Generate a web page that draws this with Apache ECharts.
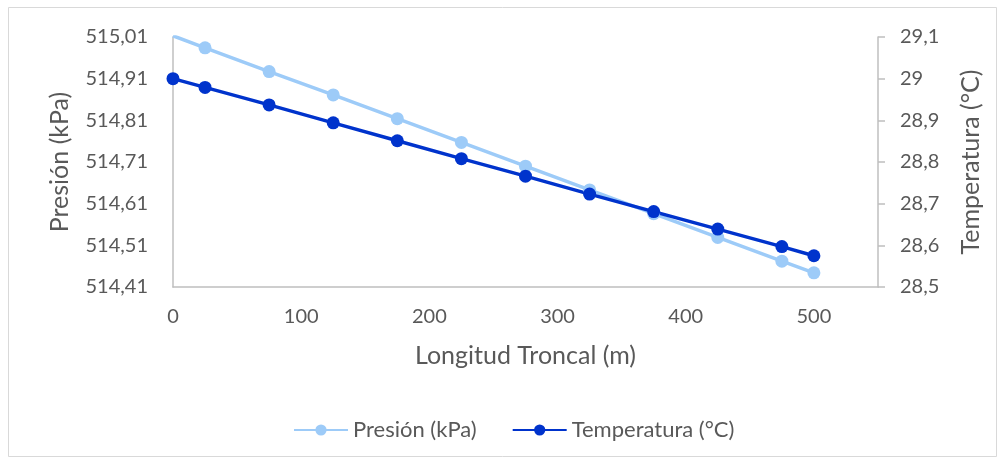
<!DOCTYPE html>
<html><head><meta charset="utf-8">
<script src="https://cdn.jsdelivr.net/npm/echarts@6/dist/echarts.min.js"></script>
<style>html,body{margin:0;padding:0;background:#fff}#c{width:1005px;height:464px}</style>
</head><body><div id="c"></div>
<script>
const distances = [0, 25, 75, 125, 175, 225, 275, 325, 375, 425, 475, 500];
const pressure = [515.013, 514.984, 514.927, 514.871, 514.814, 514.757, 514.700, 514.643, 514.586, 514.529, 514.472, 514.444];
const temperature = [29.0, 28.979, 28.937, 28.894, 28.851, 28.808, 28.766, 28.723, 28.681, 28.639, 28.597, 28.575];
const pressureTicks = [514.41, 514.51, 514.61, 514.71, 514.81, 514.91, 515.01];
const temperatureTicks = [28.5, 28.6, 28.7, 28.8, 28.9, 29.0, 29.1];
const xTicks = [0, 100, 200, 300, 400, 500];

const FONT = 'Lato';
const TXT = '#595959';
const AX = '#BFBFBF';
const C1 = '#9DCBF8';
const C2 = '#0033CC';
const pMax = pressureTicks[pressureTicks.length - 1];

const fmt = v => String(v).replace('.', ',');

const pData = distances.map((d, i) => pressure[i] > pMax
  ? { value: [d, pressure[i]], symbol: 'none' }
  : { value: [d, pressure[i]] });
const tData = distances.map((d, i) => [d, temperature[i]]);

const chart = echarts.init(document.getElementById('c'), null, { renderer: 'canvas' });
chart.setOption({
  animation: false,
  backgroundColor: '#fff',
  textStyle: { fontFamily: FONT },
  graphic: [{ type: 'rect', shape: { x: 8.5, y: 7.5, width: 988, height: 449 }, style: { fill: 'none', stroke: '#D9D9D9', lineWidth: 1 }, silent: true }],
  grid: { left: 173, right: 127, top: 37, bottom: 177, containLabel: false },
  legend: {
    left: 293, top: 419, padding: 0, itemWidth: 54, itemHeight: 14, itemGap: 35,
    textStyle: { color: TXT, fontSize: 22, fontFamily: FONT },
    data: ['Presión (kPa)', 'Temperatura (°C)']
  },
  xAxis: {
    type: 'value', min: 0, max: 550, interval: 100,
    name: 'Longitud Troncal (m)', nameLocation: 'middle', nameGap: 56,
    nameTextStyle: { color: TXT, fontSize: 25, fontFamily: FONT },
    axisLine: { show: true, lineStyle: { color: AX, width: 1.5 } },
    axisTick: { show: false },
    splitLine: { show: false },
    axisLabel: { color: TXT, fontSize: 20, fontFamily: FONT, margin: 20, customValues: xTicks }
  },
  yAxis: [{
    type: 'value', min: pressureTicks[0], max: pMax, position: 'left',
    name: 'Presión (kPa)', nameLocation: 'middle', nameGap: 101, nameRotate: 90,
    nameTextStyle: { color: TXT, fontSize: 25, fontFamily: FONT },
    axisLine: { show: true, lineStyle: { color: AX, width: 1.5 } },
    axisTick: { show: false },
    splitLine: { show: false },
    axisLabel: { color: TXT, fontSize: 20, fontFamily: FONT, margin: 25, customValues: pressureTicks, formatter: v => fmt(+v.toFixed(2)) }
  }, {
    type: 'value', min: temperatureTicks[0], max: temperatureTicks[temperatureTicks.length - 1], position: 'right',
    name: 'Temperatura (°C)', nameLocation: 'middle', nameGap: 80, nameRotate: 90,
    nameTextStyle: { color: TXT, fontSize: 25, fontFamily: FONT },
    axisLine: { show: true, lineStyle: { color: AX, width: 1.5 } },
    axisTick: { show: true, inside: false, length: 7, lineStyle: { color: AX, width: 1.5 }, customValues: temperatureTicks },
    splitLine: { show: false },
    axisLabel: { color: TXT, fontSize: 20, fontFamily: FONT, margin: 22, customValues: temperatureTicks, formatter: v => fmt(+v.toFixed(1)) }
  }],
  series: [{
    name: 'Presión (kPa)', type: 'line', yAxisIndex: 0, data: pData,
    symbol: 'circle', symbolSize: 13, clip: true,
    lineStyle: { color: C1, width: 3.5 }, itemStyle: { color: C1 }
  }, {
    name: 'Temperatura (°C)', type: 'line', yAxisIndex: 1, data: tData,
    symbol: 'circle', symbolSize: 13, clip: true,
    lineStyle: { color: C2, width: 3.5 }, itemStyle: { color: C2 }
  }]
});
</script></body></html>
